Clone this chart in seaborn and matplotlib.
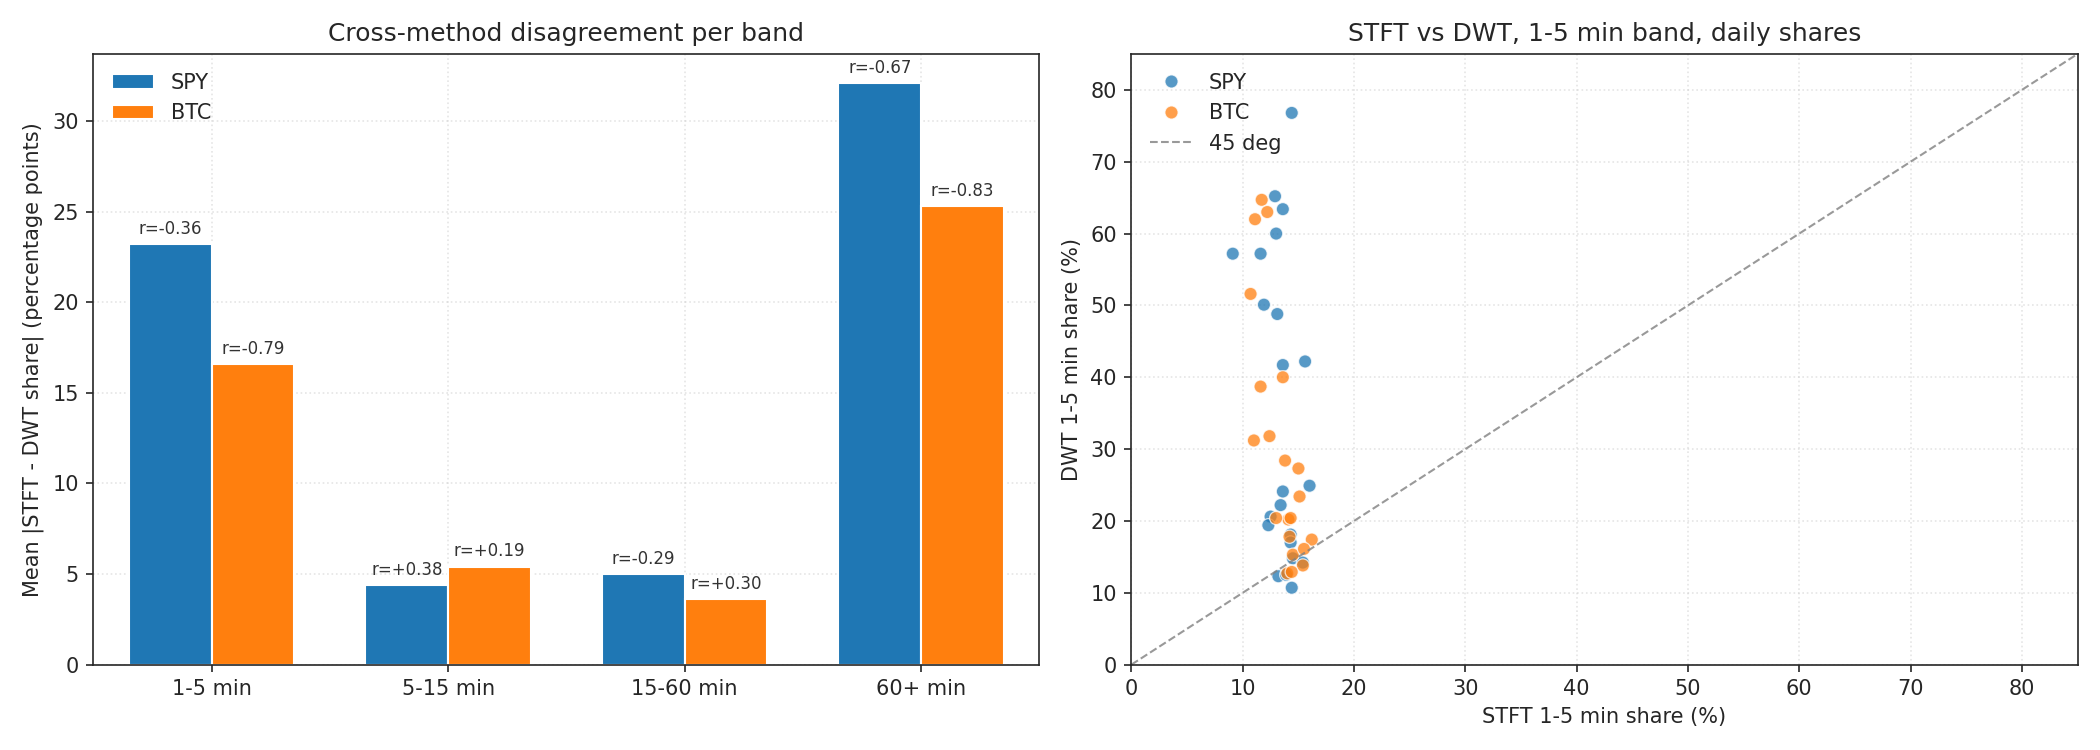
import pandas as pd
import matplotlib
matplotlib.use("Agg")
import matplotlib.pyplot as plt
import seaborn as sns

bands = ["1-5 min", "5-15 min", "15-60 min", "60+ min"]
spy_disagree = [23.2, 4.4, 5.0, 32.1]
btc_disagree = [16.6, 5.4, 3.6, 25.3]
spy_r = ["r=-0.36", "r=+0.38", "r=-0.29", "r=-0.67"]
btc_r = ["r=-0.79", "r=+0.19", "r=+0.30", "r=-0.83"]

spy_stft = [14.4, 12.9, 13.6, 13.0, 9.1, 11.6, 11.9, 13.1, 13.6, 15.6, 13.6, 16.0,
            13.4, 12.5, 12.3, 14.3, 14.3, 14.5, 15.4, 13.2, 13.9, 14.4]
spy_dwt = [76.8, 65.2, 63.4, 60.0, 57.2, 57.2, 50.1, 48.8, 41.7, 42.2, 24.1, 24.9,
           22.2, 20.6, 19.4, 18.1, 17.0, 14.8, 14.2, 12.3, 12.5, 10.7]
btc_stft = [11.7, 12.2, 11.1, 10.7, 13.6, 11.6, 12.4, 11.0, 13.8, 15.0, 15.1, 14.1,
            14.3, 13.0, 14.2, 16.2, 14.5, 15.5, 15.4, 14.0, 14.4]
btc_dwt = [64.7, 63.0, 62.0, 51.6, 40.0, 38.7, 31.8, 31.2, 28.4, 27.3, 23.4, 20.2,
           20.4, 20.4, 17.8, 17.4, 15.3, 16.1, 13.8, 12.7, 12.9]

bars = pd.DataFrame({
    "band": bands * 2,
    "asset": ["SPY"] * 4 + ["BTC"] * 4,
    "value": spy_disagree + btc_disagree,
})
pts = pd.DataFrame({
    "stft": spy_stft + btc_stft,
    "dwt": spy_dwt + btc_dwt,
    "asset": ["SPY"] * len(spy_stft) + ["BTC"] * len(btc_stft),
})

sns.set_style("ticks")
plt.rcParams["font.family"] = ["DejaVu Sans"]
palette = {"SPY": "#1f77b4", "BTC": "#ff7f0e"}

fig, (ax1, ax2) = plt.subplots(1, 2, figsize=(14, 5), dpi=150)

sns.barplot(data=bars, x="band", y="value", hue="asset", palette=palette,
            width=0.7, saturation=1, ax=ax1)
for cont, labels in zip(ax1.containers, [spy_r, btc_r]):
    ax1.bar_label(cont, labels=labels, padding=3, fontsize=8, color="#333333")
ax1.set_title("Cross-method disagreement per band", fontsize=12)
ax1.set_xlabel("")
ax1.set_ylabel("Mean |STFT - DWT share| (percentage points)", fontsize=10)
ax1.set_ylim(0, 33.7)
ax1.grid(True, linestyle=":", alpha=0.5)
ax1.set_axisbelow(True)
ax1.legend(loc="upper left", frameon=False, fontsize=10)

sns.scatterplot(data=pts, x="stft", y="dwt", hue="asset", palette=palette,
                s=40, alpha=0.75, edgecolor="white", linewidth=0.6, ax=ax2)
ax2.plot([0, 85], [0, 85], "--", color="gray", alpha=0.8, linewidth=1, label="45 deg")
ax2.set_xlim(0, 85)
ax2.set_ylim(0, 85)
ax2.set_title("STFT vs DWT, 1-5 min band, daily shares", fontsize=12)
ax2.set_xlabel("STFT 1-5 min share (%)", fontsize=10)
ax2.set_ylabel("DWT 1-5 min share (%)", fontsize=10)
ax2.grid(True, linestyle=":", alpha=0.5)
ax2.set_axisbelow(True)
ax2.legend(loc="upper left", frameon=False, fontsize=10)

plt.tight_layout()
fig.savefig("out.png", dpi=150)
